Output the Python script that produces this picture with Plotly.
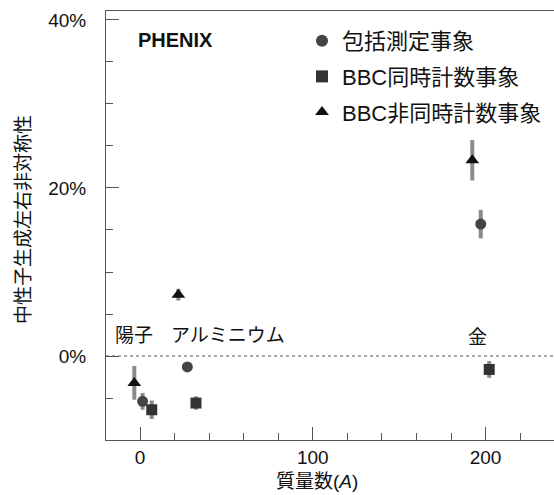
import plotly.graph_objects as go

# Data (mass number A plotted with small horizontal offsets as in the figure)
series_names = ["包括測定事象", "BBC同時計数事象", "BBC非同時計数事象"]
targets = ["陽子", "アルミニウム", "金"]

inc_x = [1.5, 27.4, 197.2]
inc_y = [-5.4, -1.3, 15.7]
inc_err = [1.0, 0.3, 1.7]

bbc_x = [6.8, 32.4, 202.1]
bbc_y = [-6.4, -5.6, -1.6]
bbc_err = [1.1, 0.8, 1.0]

nbbc_x = [-3.3, 22.2, 192.3]
nbbc_y = [-3.2, 7.3, 23.3]
nbbc_err = [2.0, 0.7, 2.4]

label_x = [-3.6, 51.0, 195.4]
label_y = [2.5, 2.5, 2.2]

FONT = "Liberation Sans, Arial, Noto Sans CJK JP"
ERRC = "#8a8a8a"

# plot-area geometry in page pixels
PL, PT, PW, PH = 106, 11, 448, 429

def px(x):
    return (x - PL) / PW

def py(y):
    return (PT + PH - y) / PH

fig = go.Figure()

def add(name, xs, ys, errs, symbol, color, size, grp):
    fig.add_trace(go.Scatter(
        x=xs, y=ys, mode="markers", name=name, legendgroup=grp,
        marker=dict(symbol=symbol, color=color, size=size),
        error_y=dict(type="data", array=errs, color=ERRC, thickness=4, width=0),
    ))

add(series_names[0], inc_x, inc_y, inc_err, "circle", "#444444", 11, "a")
add(series_names[1], bbc_x, bbc_y, bbc_err, "square", "#333333", 11, "b")
add(series_names[2], nbbc_x, nbbc_y, nbbc_err, "triangle-up", "#111111", 12, "c")

# zero reference line
fig.add_shape(type="line", xref="paper", x0=0, x1=1, yref="y", y0=0, y1=0,
              line=dict(color="#555555", width=1, dash="dot"))

annotations = []
for t, lx, ly in zip(targets, label_x, label_y):
    annotations.append(dict(x=lx, y=ly, xref="x", yref="y", text=t, showarrow=False,
                            xanchor="center", yanchor="middle",
                            font=dict(size=19, color="#111111", family=FONT)))
annotations.append(dict(x=px(175), y=py(40), xref="paper", yref="paper",
                        text="<b>PHENIX</b>", showarrow=False, xanchor="center", yanchor="middle",
                        font=dict(size=20, color="#111111", family=FONT)))
annotations.append(dict(x=px(316.7), y=py(481.5), xref="paper", yref="paper",
                        text="質量数(<i>A</i>)", showarrow=False, xanchor="center", yanchor="middle",
                        font=dict(size=19, color="#111111", family=FONT)))
annotations.append(dict(x=px(23), y=py(220), xref="paper", yref="paper",
                        text="中性子生成左右非対称性", showarrow=False, textangle=-90,
                        xanchor="center", yanchor="middle",
                        font=dict(size=19, color="#111111", family=FONT)))

fig.update_layout(
    width=554, height=495,
    margin=dict(l=PL, r=554 - PL - PW, t=PT, b=495 - PT - PH, autoexpand=False),
    paper_bgcolor="white", plot_bgcolor="white",
    font=dict(family=FONT, size=19, color="#111111"),
    showlegend=True,
    legend=dict(x=px(302), y=py(20), xanchor="left", yanchor="top",
                font=dict(size=22, family=FONT, color="#111111"),
                tracegroupgap=4, bgcolor="rgba(0,0,0,0)", itemsizing="constant"),
    annotations=annotations,
    xaxis=dict(range=[-19.68, 239.6], showgrid=False, zeroline=False,
               showline=True, linecolor="#555555", linewidth=1, mirror=True,
               ticks="inside", ticklen=13, tickcolor="#555555", dtick=100, tick0=0,
               minor=dict(ticks="inside", ticklen=7, dtick=20, tick0=0, tickcolor="#555555"),
               tickfont=dict(size=19, family=FONT), ticklabelstandoff=0),
    yaxis=dict(range=[-10, 41.07], showgrid=False, zeroline=False,
               showline=True, linecolor="#555555", linewidth=1,
               ticks="inside", ticklen=13, tickcolor="#555555", dtick=20, tick0=0,
               ticksuffix="%",
               minor=dict(ticks="inside", ticklen=7, dtick=5, tick0=0, tickcolor="#555555"),
               tickfont=dict(size=19, family=FONT), ticklabelstandoff=15),
)

fig.write_html(
    "out.html",
    config={"displayModeBar": False},
    post_script="document.body.style.margin='0';document.body.style.overflow='hidden';",
)
